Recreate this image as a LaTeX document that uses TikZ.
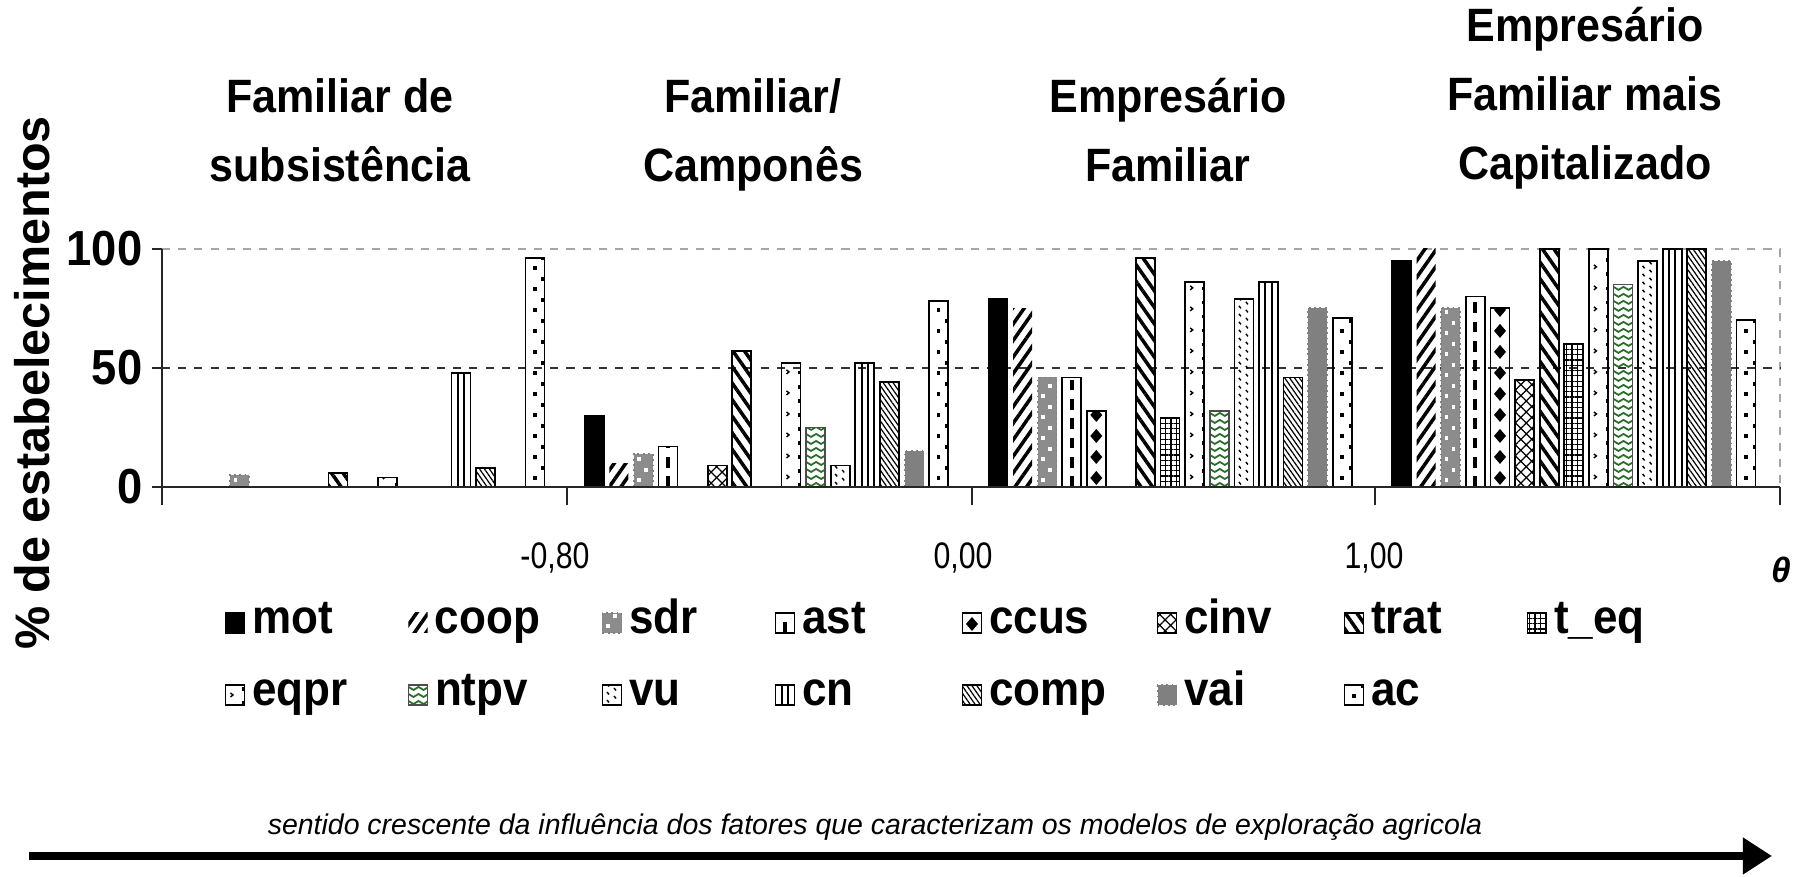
\documentclass[tikz,border=0pt]{standalone}
\usepackage{fontspec}
\setmainfont{Liberation Sans}
\newfontfamily\narrowfont{Liberation Sans}[FakeStretch=0.92]
\newfontfamily\condfont{Liberation Sans}[FakeStretch=0.82]
\usetikzlibrary{positioning,patterns,patterns.meta,arrows.meta}

\definecolor{sdrgray}{gray}{0.55}
\definecolor{vaigray}{gray}{0.50}
\definecolor{gridgray}{gray}{0.65}
\definecolor{chevgreen}{RGB}{40,110,40}

\begin{document}
\begin{tikzpicture}
[x=0.01cm,y=0.01cm,
 barline/.style={draw=black,line width=0.5pt},
 motbar/.style={barline,fill=black},
 coopbar/.style={pattern={Lines[angle=55,distance=2.7pt,line width=1pt]}},
 sdrbar/.style={fill=sdrgray,draw=gray,densely dotted,line width=0.5pt,
   path picture={\foreach \k in {0,...,12}{
     \fill[white] ([shift={(-0.06cm,\k*0.21cm+0.05cm)}]path picture bounding box.south) rectangle ++(1pt,1pt);
     \fill[white] ([shift={(0.01cm,\k*0.21cm+0.15cm)}]path picture bounding box.south) rectangle ++(1pt,1pt);}}},
 astbar/.style={barline,path picture={\draw[line width=1.1pt,dash pattern=on 3pt off 2.5pt]
     (path picture bounding box.south) -- (path picture bounding box.north);}},
 ccusbar/.style={barline,path picture={\foreach \k in {0,...,12}
     \fill ([yshift=\k*0.21cm+0.02cm]path picture bounding box.south) -- ++(0.06cm,0.07cm) -- ++(-0.06cm,0.07cm) -- ++(-0.06cm,-0.07cm) -- cycle;}},
 cinvbar/.style={barline,pattern={Hatch[angle=45,distance=2.2pt,line width=0.35pt]}},
 tratbar/.style={barline,pattern={Lines[angle=-55,distance=2.7pt,line width=1pt]}},
 teqbar/.style={barline,pattern={Hatch[angle=0,distance=1.5pt,line width=0.35pt]}},
 eqprbar/.style={barline,path picture={\foreach \k in {0,...,12}
     \draw[line width=0.4pt] ([shift={(0.05cm,\k*0.21cm+0.12cm)}]path picture bounding box.south west) -- ++(0.025cm,-0.02cm) -- ++(-0.025cm,-0.02cm);
   \draw[line width=1.2pt,dash pattern=on 1pt off 3pt] (path picture bounding box.south east) -- (path picture bounding box.north east);}},
 ntpvbar/.style={draw=black!70,line width=0.5pt,path picture={\foreach \k in {0,...,35}
     \draw[chevgreen,line width=0.5pt] ([yshift=\k*0.07cm+0.04cm]path picture bounding box.south west) -- ++(0.05cm,-0.03cm) -- ++(0.05cm,0.03cm) -- ++(0.05cm,-0.03cm) -- ++(0.05cm,0.03cm) -- ++(0.05cm,-0.03cm) -- ++(0.05cm,0.03cm);}},
 vubar/.style={barline,path picture={\foreach \k in {0,...,30}{
     \draw[line width=0.4pt] ([shift={(-0.05cm,\k*0.08cm+0.05cm)}]path picture bounding box.south) -- ++(0.02cm,-0.025cm);
     \draw[line width=0.4pt] ([shift={(0.02cm,\k*0.08cm+0.09cm)}]path picture bounding box.south) -- ++(0.02cm,-0.025cm);}}},
 cnbar/.style={barline,path picture={\foreach \d in {-0.032,0.032}
     \draw[line width=0.6pt] ([xshift=\d cm]path picture bounding box.south) -- ([xshift=\d cm]path picture bounding box.north);}},
 compbar/.style={barline,pattern={Lines[angle=-55,distance=1.15pt,line width=0.35pt]}},
 vaibar/.style={fill=vaigray,draw=gray,densely dotted,line width=0.5pt},
 acbar/.style={barline,path picture={\foreach \k in {0,...,12}{
     \fill ([shift={(-0.02cm,\k*0.21cm+0.07cm)}]path picture bounding box.south) rectangle ++(1.1pt,1.1pt);
     \fill ([shift={(-0.03cm,\k*0.21cm+0.17cm)}]path picture bounding box.south east) rectangle ++(1.1pt,1.1pt);}}},
 axisline/.style={line width=0.7pt,black!85},
 titletext/.style={font=\narrowfont\bfseries\fontsize{13.3}{19.6}\selectfont,align=center,inner sep=0pt},
 ticktext/.style={font=\narrowfont\bfseries\fontsize{14}{16}\selectfont,inner sep=0pt},
 xticktext/.style={font=\condfont\fontsize{10.5}{12}\selectfont,inner sep=0pt},
 legbox/.style={minimum width=0.19cm,minimum height=0.2cm,inner sep=0pt},
 legtext/.style={font=\narrowfont\bfseries\fontsize{13.6}{16}\selectfont,inner sep=0pt},
 bigarrow/.style={line width=2.3pt,-{Triangle[length=8.3pt,width=10pt]}}]
%%% canvas
\fill[white] (0,0) rectangle (1802,877);
\useasboundingbox (0,0) rectangle (1802,877);
%
%%% titles of the farm models
\node[titletext,anchor=north] (tsub) at (340,799) {Familiar de\\subsistência};
\node[titletext,anchor=north] (tcamp) at (753,799) {Familiar/\\Camponês};
\node[titletext,anchor=north] (temp) at (1168,799) {Empresário\\Familiar};
\node[titletext,anchor=north] (tcap) at (1585,870) {Empresário\\Familiar mais\\Capitalizado};
%
%%% grid lines
\draw[gridgray,line width=0.8pt,dash pattern=on 2.3pt off 2.3pt] (162,628) -- (1780,628) -- (1780,390);
\draw[black!80,line width=0.8pt,dash pattern=on 2.3pt off 2.3pt] (162,509) -- (1780,509);
%
%%% bars: 15 factors in each of the 4 groups
\begin{scope}[shift={(0,390)},y=0.0238cm]
\foreach \sty/\s/\hs in {motbar/0/{0,30,79,95},coopbar/1/{0,10,75,100},
  sdrbar/2/{5,14,46,75},astbar/3/{0,17,46,80},ccusbar/4/{0,0,32,75},
  cinvbar/5/{0,9,0,45},tratbar/6/{6,57,96,100},teqbar/7/{0,0,29,60},
  eqprbar/8/{4,52,86,100},ntpvbar/9/{0,25,32,85},vubar/10/{0,9,79,95},
  cnbar/11/{48,52,86,100},compbar/12/{8,44,46,100},vaibar/13/{0,15,75,95},
  acbar/14/{96,78,71,70}}
  \foreach \h [count=\g from 0] in \hs {
    \ifnum\h>0
      \path[\sty] (181+403.7*\g+24.6*\s,0) rectangle ++(19,\h);
    \fi
  };
\end{scope}
%
%%% axes
\draw[axisline] (162,628) -- (162,372);
\draw[axisline] (152,390) -- (1780,390);
\foreach \yy in {628,509,390}
  \draw[axisline] (152,\yy) -- (162,\yy);
\foreach \xx in {567,972,1375,1780}
  \draw[axisline] (\xx,390) -- (\xx,372);
% tick labels
\node[ticktext,anchor=east] (y100) at (143,628) {100};
\node[ticktext,anchor=east] (y50) at (143,509) {50};
\node[ticktext,anchor=east] (y0) at (143,390) {0};
\node[xticktext] (xm80) at (555,319) {-0,80};
\node[xticktext] (x000) at (963,319) {0,00};
\node[xticktext] (x100) at (1374,319) {1,00};
\node[font=\bfseries\itshape\fontsize{10}{11}\selectfont,inner sep=0pt] (theta) at (1781,307) {θ};
\node[font=\bfseries\fontsize{13.8}{15}\selectfont,rotate=90,inner sep=0pt] (ylabel) at (32,494) {\% de estabelecimentos};
%
%%% legend
\foreach \sty/\txt/\nm/\xx in {motbar/mot/mot/235,coopbar/coop/coop/418,sdrbar/sdr/sdr/612,
  astbar/ast/ast/785,ccusbar/ccus/ccus/972,cinvbar/cinv/cinv/1167,tratbar/trat/trat/1354,teqbar/t\_eq/teq/1537}{
  \node[\sty,legbox] (k\nm) at (\xx,254) {};
  \node[legtext,anchor=base west] (l\nm) at ([xshift=0.06cm]k\nm.south east) {\txt};
}
\foreach \sty/\txt/\nm/\xx in {eqprbar/eqpr/eqpr/235,ntpvbar/ntpv/ntpv/418,vubar/vu/vu/612,
  cnbar/cn/cn/785,compbar/comp/comp/972,vaibar/vai/vai/1167,acbar/ac/ac/1354}{
  \node[\sty,legbox] (k\nm) at (\xx,182) {};
  \node[legtext,anchor=base west] (l\nm) at ([xshift=0.06cm]k\nm.south east) {\txt};
}
%
%%% direction of growing influence
\node[font=\itshape\fontsize{8.1}{10}\selectfont,inner sep=0pt] (caption) at (875,50)
  {sentido crescente da influência dos fatores que caracterizam os modelos de exploração agricola};
\coordinate (arrowstart) at (29,21);
\coordinate (arrowend) at (1772,21);
\draw[bigarrow] (arrowstart) -- (arrowend);
\end{tikzpicture}
\end{document}
